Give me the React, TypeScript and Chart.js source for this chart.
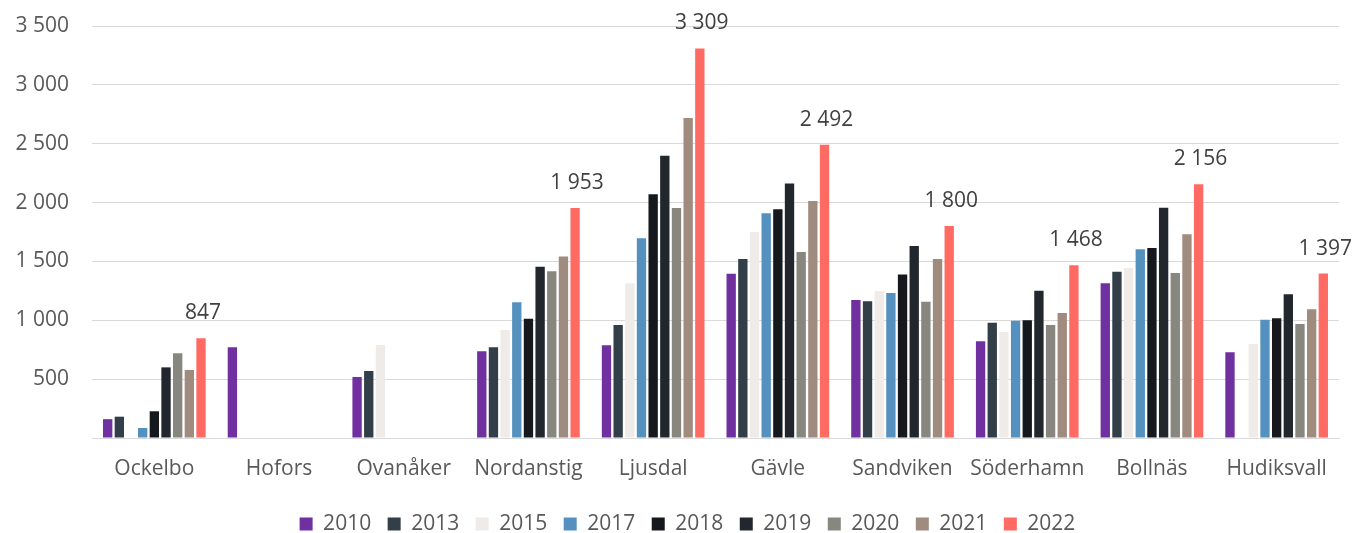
import React, { useEffect, useRef } from "react";
import { Chart, registerables } from "chart.js";

Chart.register(...registerables);

const categories = ["Ockelbo", "Hofors", "Ovanåker", "Nordanstig", "Ljusdal", "Gävle", "Sandviken", "Söderhamn", "Bollnäs", "Hudiksvall"];
const years = ["2010", "2013", "2015", "2017", "2018", "2019", "2020", "2021", "2022"];

const v2010 = [160, 770, 518, 736, 788, 1396, 1172, 821, 1314, 728];
const v2013 = [181, null, 569, 770, 960, 1520, 1161, 980, 1413, null];
const v2015 = [null, null, 790, 917, 1314, 1750, 1249, 900, 1444, 798];
const v2017 = [85, null, null, 1153, 1696, 1909, 1232, 997, 1603, 1005];
const v2018 = [227, null, null, 1014, 2070, 1943, 1390, 1000, 1614, 1017];
const v2019 = [600, null, null, 1455, 2398, 2161, 1631, 1251, 1956, 1221];
const v2020 = [720, null, null, 1416, 1954, 1580, 1158, 960, 1402, 968];
const v2021 = [578, null, null, 1541, 2718, 2013, 1520, 1062, 1730, 1093];
const v2022 = [847, null, null, 1953, 3309, 2492, 1800, 1468, 2156, 1397];

const seriesValues = [v2010, v2013, v2015, v2017, v2018, v2019, v2020, v2021, v2022];
const colors = ["#7030A0", "#323E48", "#EFEBE8", "#5591BF", "#15181C", "#22262D", "#878780", "#A08B7F", "#FF6B63"];

const yTicks = [0, 500, 1000, 1500, 2000, 2500, 3000, 3500];

const fmt = (v: number) => String(Math.round(v)).replace(/\B(?=(\d{3})+(?!\d))/g, " ");

const FONT = "'Open Sans', 'Noto Sans', sans-serif";
const FS = 21;

const labelPlugin = {
  id: "lastSeriesLabels",
  afterLayout(chart: any) {
    const l = chart.legend;
    if (l) {
      l.left += 18;
      l.right += 18;
    }
  },
  afterDatasetsDraw(chart: any) {
    const ctx = chart.ctx;
    const di = chart.data.datasets.length - 1;
    const meta = chart.getDatasetMeta(di);
    const data = chart.data.datasets[di].data;
    ctx.save();
    ctx.font = `${FS}px ${FONT}`;
    ctx.fillStyle = "#404040";
    ctx.textAlign = "center";
    ctx.textBaseline = "alphabetic";
    meta.data.forEach((bar: any, i: number) => {
      const v = data[i];
      if (v == null) return;
      ctx.fillText(fmt(v), bar.x + 2, bar.y - 19);
    });
    ctx.restore();
  },
};

export default function App() {
  const ref = useRef<HTMLCanvasElement | null>(null);
  useEffect(() => {
    if (!ref.current) return;
    const chart = new Chart(ref.current, {
      type: "bar",
      data: {
        labels: categories,
        datasets: years.map((y, i) => ({
          label: y,
          data: seriesValues[i],
          backgroundColor: colors[i],
          borderWidth: 0,
          categoryPercentage: 0.842,
          barPercentage: 0.8,
        })),
      },
      options: {
        animation: false,
        responsive: false,
        maintainAspectRatio: false,
        layout: { padding: { top: 26, right: 14, left: 0, bottom: -11.5 } },
        plugins: {
          tooltip: { enabled: false },
          legend: {
            position: "bottom",
            labels: {
              boxWidth: 13,
              boxHeight: 13,
              padding: 16.5,
              color: "#595959",
              font: { family: FONT, size: FS },
            },
          },
        },
        scales: {
          x: {
            grid: { display: false, drawTicks: false },
            border: { display: true, color: "#D9D9D9", width: 1 },
            ticks: { color: "#595959", font: { family: FONT, size: FS }, padding: 18, maxRotation: 0 },
            afterFit: (s: any) => { s.height = 59; },
          },
          y: {
            min: 0,
            max: 3500,
            afterBuildTicks: (s: any) => { s.ticks = yTicks.map((v) => ({ value: v })); },
            grid: { color: "#D9D9D9", lineWidth: 1, drawTicks: false },
            border: { display: false },
            ticks: {
              color: "#595959",
              font: { family: FONT, size: FS },
              padding: 23,
              callback: (v: any) => (Number(v) === 0 ? "" : fmt(Number(v))),
            },
            afterFit: (s: any) => {
              s.width = 92;
              s.paddingTop = 0;
              s.paddingBottom = 0;
            },
          },
        },
      },
      plugins: [labelPlugin],
    });
    return () => chart.destroy();
  }, []);
  return (
    <div style={{ position: "absolute", left: 0, top: 0, width: 1353, height: 533, background: "#fff" }}>
      <canvas ref={ref} width={1353} height={533} style={{ display: "block" }} />
    </div>
  );
}
